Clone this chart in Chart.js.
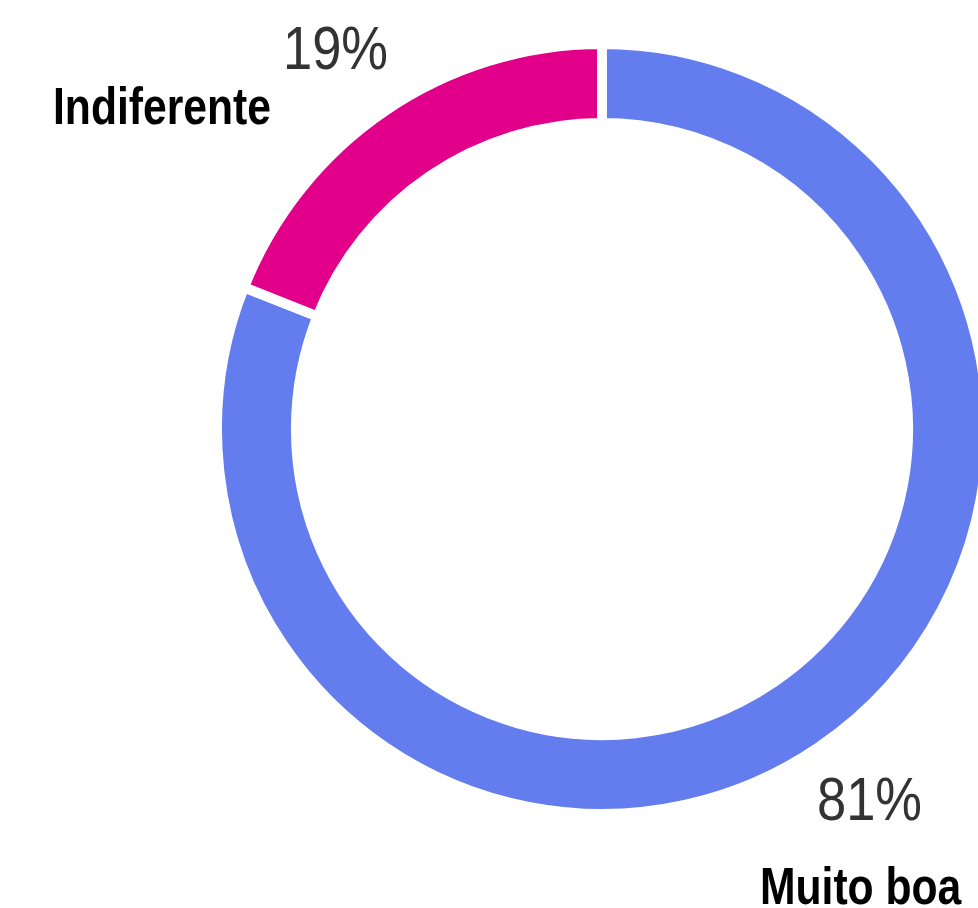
<!DOCTYPE html>
<html>
<head>
<meta charset="utf-8">
<script src="https://cdn.jsdelivr.net/npm/chart.js@4.4.0/dist/chart.umd.min.js"></script>
<style>
  html, body { margin: 0; padding: 0; background: #fff; overflow: hidden; }
  #wrap { position: relative; width: 990px; height: 908px; }
</style>
</head>
<body>
<div id="wrap"><canvas id="myChart"></canvas></div>
<script>
const categories = ['Muito boa', 'Indiferente']
const values = [81, 19]
const percentLabels = ['81%', '19%']
const sliceColors = ['#647DEE', '#E2008A']

// narrow text: Liberation Sans squeezed horizontally
const narrowText = (ctx, text, x, y, font, color, squeeze) => {
    ctx.save()
    ctx.font = font
    ctx.fillStyle = color
    ctx.translate(x, y)
    ctx.scale(squeeze, 1)
    ctx.fillText(text, 0, 0)
    ctx.restore()
}

const labelPlugin = {
    id: 'ringLabels',
    afterDraw(chart) {
        const ctx = chart.ctx
        const arc = chart.getDatasetMeta(0).data[0]
        const cx = arc.x
        const cy = arc.y
        ctx.save()
        ctx.textBaseline = 'alphabetic'
        ctx.textAlign = 'left'
        const pctFont = '61px "Liberation Sans", Arial, sans-serif'
        const catFont = 'bold 52px "Liberation Sans", Arial, sans-serif'

        // Indiferente
        narrowText(ctx, percentLabels[1], cx - 319, cy - 360, pctFont, '#333', 0.86)
        narrowText(ctx, categories[1], cx - 549, cy - 305, catFont, '#000', 0.82)

        // Muito boa
        narrowText(ctx, percentLabels[0], cx + 215, cy + 391, pctFont, '#333', 0.86)
        narrowText(ctx, categories[0], cx + 158, cy + 475, catFont, '#000', 0.82)
        ctx.restore()
    }
}

const ctx = document.getElementById('myChart').getContext('2d')
const myChart = new Chart(ctx, {
    type: 'doughnut',
    data: {
        labels: categories,
        datasets: [{
            data: values,
            backgroundColor: sliceColors,
            borderColor: '#fff',
            borderWidth: 10,
            borderJoinStyle: 'miter'
        }]
    },
    options: {
        responsive: true,
        maintainAspectRatio: false,
        animation: false,
        radius: 385,
        cutout: '79.5%',
        layout: { padding: { left: 222, right: 8, top: 49, bottom: 99 } },
        plugins: {
            legend: { display: false },
            tooltip: { enabled: false }
        }
    },
    plugins: [labelPlugin]
})
</script>
</body>
</html>
